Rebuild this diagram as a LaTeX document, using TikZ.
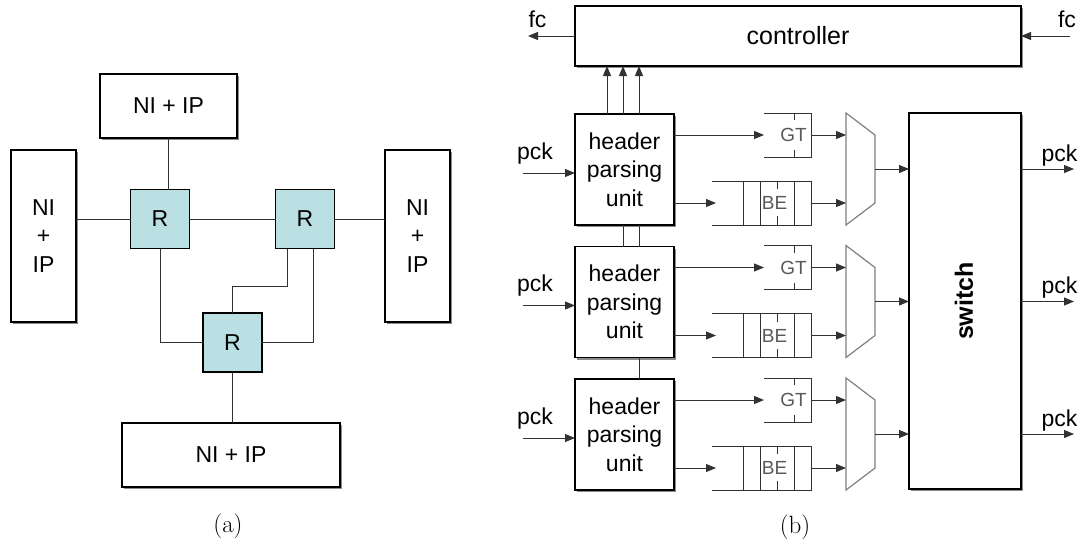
\documentclass[tikz,border=0pt]{standalone}
\usepackage{fontspec}
\newfontfamily\arialfont{Liberation Sans}
\usetikzlibrary{arrows.meta, positioning, calc, shadows}
\definecolor{rfill}{RGB}{187,224,227}
\definecolor{linegray}{RGB}{50,50,50}
\definecolor{muxgray}{RGB}{128,128,128}

\begin{document}
\begin{tikzpicture}[x=1pt, y=-1pt,
  every node/.style={inner sep=0pt, outer sep=0pt,
    font=\arialfont\fontsize{23}{28.5}\selectfont},
  block/.style={rectangle, draw, line width=1.1pt, fill=white, align=center,
    drop shadow={shadow xshift=2pt, shadow yshift=-2pt, fill=black!45, opacity=1}},
  router/.style={rectangle, draw, line width=1.1pt, fill=rfill, minimum size=59pt},
  link/.style={draw=linegray, line width=1pt},
  flow/.style={link, -{Triangle[length=10pt, width=8pt]}},
  queue/.style={draw=linegray, line width=1pt},
  qlabel/.style={text=black!65, font=\arialfont\fontsize{19}{22}\selectfont},
  muxline/.style={draw=muxgray, line width=1.2pt},
  caption/.style={anchor=base, font=\fontsize{25}{30}\selectfont}
]
\useasboundingbox (0,0) rectangle (1083,541);

% (a)
\node[block, minimum width=137pt, minimum height=64pt] (nitop) at (168.5,106) {NI + IP};
\node[block, minimum width=65pt, minimum height=172pt] (nileft) at (43.5,236) {NI\\+\\IP};
\node[block, minimum width=65pt, minimum height=172pt] (niright) at (417.5,236) {NI\\+\\IP};
\node[block, minimum width=218pt, minimum height=64pt] (nibot) at (231,455) {NI + IP};
\node[router] (r1) at (160,219) {R};
\node[router] (r2) at (305,219) {R};
\node[router] (r3) at (232.5,342.5) {R};

\draw[link] (nitop.south) -- (nitop.south |- r1.north);
\draw[link] (nileft.east |- r1.west) -- (r1.west);
\draw[link] (r1.east) -- (r2.west);
\draw[link] (r2.east) -- (niright.west |- r2.east);
\draw[link] (r1.south) |- (r3.west);
\draw[link] ($(r2.south west)!0.2!(r2.south east)$) -- ++(0,38) -| (r3.north);
\draw[link] ($(r2.south west)!0.64!(r2.south east)$) |- (r3.east);
\draw[link] (r3.south) -- (r3.south |- nibot.north);

\node[caption] (capa) at (228,532) {(a)};

% (b)
\node[block, minimum width=446pt, minimum height=60pt,
  font=\arialfont\fontsize{25}{30}\selectfont] (ctrl) at (798,36) {controller};
\node[block, minimum width=112pt, minimum height=376pt,
  label={[rotate=90, yshift=1pt, font=\arialfont\bfseries\fontsize{25}{30}\selectfont]center:switch}]
  (switch) at (965,301) {};

\coordinate (fcout) at (528,36);
\coordinate (fcin) at (1070,36);
\draw[flow] (ctrl.west) -- (fcout);
\draw[flow] (fcin) -- (ctrl.east);
\node[anchor=base] (fcl) at (537.5,27) {fc};
\node[anchor=base] (fcr) at (1067,27) {fc};

\foreach \i [evaluate=\i as \dy using 132.5*(\i-1)] in {1,2,3} {
  \node[block, minimum width=99pt, minimum height=111pt] (hpu\i) at (624.5,169.5+\dy) {header\\parsing\\unit};
  \node[minimum width=47pt, minimum height=44pt, label={[qlabel, xshift=6pt]center:GT}] (gt\i) at (787.5,135+\dy) {};
  \node[minimum width=99pt, minimum height=44pt, label={[qlabel, xshift=13pt]center:BE}] (be\i) at (761.5,203+\dy) {};
  \node[minimum width=29pt, minimum height=112pt] (mux\i) at (860.5,169+\dy) {};

  \draw[queue] (gt\i.north west) -- (gt\i.north east) -- (gt\i.south east) -- (gt\i.south west);
  \draw[queue] ($(gt\i.north east)+(-17,0)$) -- ++(0,7) ($(gt\i.south east)+(-17,0)$) -- ++(0,-7);
  \draw[queue] (be\i.north west) -- (be\i.north east) -- (be\i.south east) -- (be\i.south west);
  \foreach \q in {31,48,82}
    \draw[queue] ($(be\i.north west)+(\q,0)$) -- ($(be\i.south west)+(\q,0)$);
  \draw[queue] ($(be\i.north west)+(65,0)$) -- ++(0,8) ($(be\i.south west)+(65,0)$) -- ++(0,-9);
  \draw[muxline] (mux\i.north west) -- ($(mux\i.north east)+(0,22)$)
    -- ($(mux\i.south east)+(0,-22)$) -- (mux\i.south west) -- cycle;

  \coordinate (pckin\i) at (523,173+\dy);
  \coordinate (pckout\i) at (1074,169+\dy);
  \draw[flow] (pckin\i) -- (hpu\i.west |- pckin\i);
  \node[anchor=base] (pckl\i) at (535,159+\dy) {pck};
  \draw[flow] (hpu\i.east |- gt\i.west) -- (gt\i.west);
  \draw[flow] (hpu\i.east |- be\i.west) -- ($(be\i.west)+(4,0)$);
  \draw[flow] (gt\i.east) -- (mux\i.west |- gt\i.east);
  \draw[flow] (be\i.east) -- (mux\i.west |- be\i.east);
  \draw[flow] (mux\i.east) -- (switch.west |- mux\i.east);
  \draw[flow] (switch.east |- pckout\i) -- (pckout\i);
  \node[anchor=base] (pckr\i) at (1059.5,161+\dy) {pck};
}

\foreach \u in {32,48,64}
  \draw[flow] ($(hpu1.north west)+(\u,0)$) -- ($(hpu1.north west |- ctrl.south)+(\u,0)$);
\foreach \u in {48,64}
  \draw[link] ($(hpu1.south west)+(\u,0)$) -- ($(hpu1.south west |- hpu2.north)+(\u,0)$);
\draw[link] ($(hpu2.south west)+(64,0)$) -- ($(hpu2.south west |- hpu3.north)+(64,0)$);

\node[caption] (capb) at (795,533) {(b)};
\end{tikzpicture}
\end{document}
